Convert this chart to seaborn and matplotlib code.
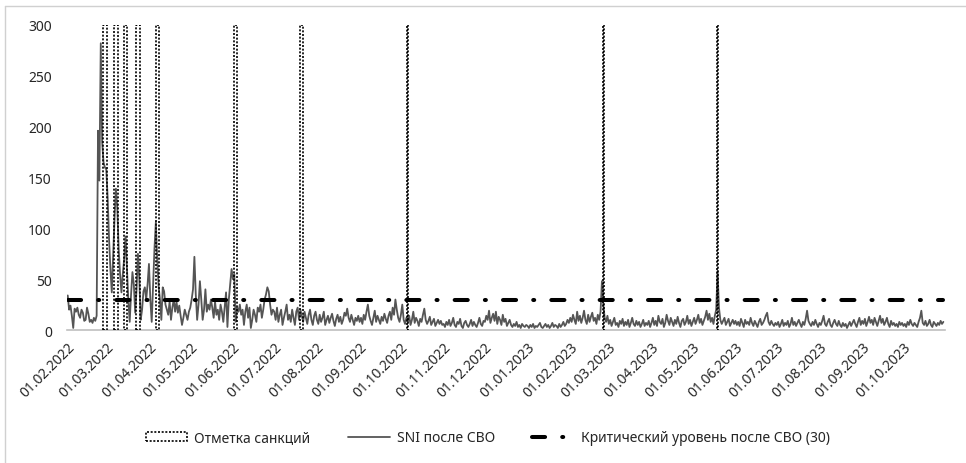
import seaborn as sns
import matplotlib.pyplot as plt
import matplotlib.dates as mdates
import pandas as pd
from matplotlib.lines import Line2D

# SNI after the start of SVO, one value per day from 01.02.2022
sni_2022_02 = [34, 20, 24, 14, 2, 21, 18, 22, 15, 12, 20, 17, 9, 10, 22, 16, 8, 10, 7, 12,
               9, 14, 196, 147, 282, 185, 165, 160]
sni_2022_03 = [158, 130, 90, 60, 37, 75, 110, 139, 120, 80, 55, 37, 55, 70, 92, 60, 30, 8, 35, 57,
               45, 17, 40, 75, 50, 10, 20, 38, 42, 30, 45]
sni_2022_04 = [65, 30, 8, 45, 80, 106, 70, 43, 30, 10, 42, 38, 25, 20, 15, 28, 10, 22, 30, 18,
               28, 17, 24, 14, 5, 12, 20, 15, 10, 18]
sni_2022_05 = [22, 30, 40, 72, 35, 10, 25, 48, 30, 10, 20, 40, 18, 25, 20, 30, 22, 12, 28, 15,
               20, 10, 25, 18, 8, 22, 37, 3, 30, 45, 60]
sni_2022_06 = [50, 55, 8, 22, 18, 25, 15, 20, 5, 18, 25, 12, 22, 2, 10, 20, 15, 8, 22, 18,
               25, 12, 20, 30, 35, 42, 38, 25, 15, 20]
sni_2022_07 = [18, 10, 22, 8, 15, 20, 5, 12, 18, 25, 10, 15, 8, 20, 12, 5, 18, 22, 10, 20,
               14, 8, 18, 12, 6, 15, 20, 10, 5, 14, 18]
sni_2022_08 = [10, 6, 15, 8, 12, 18, 5, 10, 14, 7, 12, 16, 9, 4, 11, 15, 8, 13, 6, 10,
               17, 14, 21, 12, 8, 15, 10, 5, 12, 9, 14]
sni_2022_09 = [8, 12, 6, 15, 10, 18, 25, 14, 9, 5, 12, 19, 8, 14, 10, 6, 13, 9, 16, 11,
               7, 14, 18, 10, 22, 15, 30, 20, 12, 8]
sni_2022_10 = [15, 25, 10, 6, 12, 8, 14, 5, 10, 18, 7, 12, 9, 4, 11, 8, 15, 21, 10, 6,
               9, 13, 5, 8, 11, 4, 7, 10, 6, 9, 5]
sni_2022_11 = [6, 3, 8, 5, 10, 4, 7, 12, 5, 3, 8, 6, 11, 4, 2, 7, 9, 5, 3, 6,
               10, 4, 8, 5, 3, 7, 12, 6, 4, 9]
sni_2022_12 = [8, 14, 10, 19, 7, 12, 16, 9, 18, 6, 13, 10, 5, 15, 8, 11, 4, 7, 10, 5,
               3, 6, 4, 8, 3, 5, 2, 6, 4, 3, 5]
sni_2023_01 = [4, 2, 5, 3, 6, 2, 4, 3, 5, 7, 3, 2, 4, 6, 3, 5, 2, 4, 7, 3,
               5, 4, 2, 6, 3, 5, 8, 4, 6, 10, 7]
sni_2023_02 = [12, 8, 15, 10, 6, 18, 9, 14, 7, 12, 19, 10, 6, 15, 8, 13, 17, 9, 12, 6,
               15, 10, 18, 48, 25, 12, 8, 14]
sni_2023_03 = [6, 10, 4, 8, 12, 5, 7, 3, 9, 6, 11, 4, 8, 5, 10, 3, 7, 12, 6, 4,
               9, 5, 8, 3, 6, 10, 4, 7, 5, 9, 3]
sni_2023_04 = [7, 12, 5, 9, 4, 14, 8, 6, 11, 3, 7, 15, 9, 5, 12, 8, 4, 10, 6, 13,
               7, 3, 9, 11, 5, 8, 14, 6, 10, 4]
sni_2023_05 = [8, 12, 6, 10, 15, 7, 11, 5, 9, 13, 19, 10, 16, 8, 12, 6, 14, 20, 58, 22,
               10, 6, 9, 12, 5, 8, 11, 4, 7, 10, 6]
sni_2023_06 = [9, 5, 8, 4, 11, 7, 3, 10, 6, 8, 5, 12, 7, 4, 9, 6, 3, 8, 11, 5,
               7, 10, 14, 17, 8, 5, 9, 6, 4, 7]
sni_2023_07 = [5, 8, 3, 6, 10, 4, 7, 5, 9, 3, 6, 12, 5, 8, 4, 7, 10, 6, 3, 8,
               5, 11, 19, 9, 6, 4, 8, 5, 10, 6, 3]
sni_2023_08 = [7, 5, 9, 14, 6, 4, 8, 11, 5, 3, 7, 10, 6, 4, 9, 5, 3, 7, 4, 6,
               2, 5, 8, 4, 7, 10, 6, 3, 8, 12, 5]
sni_2023_09 = [9, 6, 11, 4, 8, 13, 7, 10, 5, 12, 8, 4, 9, 14, 7, 11, 5, 8, 12, 6,
               3, 9, 5, 7, 4, 6, 3, 8, 5, 7]
sni_2023_10 = [4, 6, 3, 8, 5, 10, 6, 4, 7, 5, 3, 8, 12, 19, 7, 5, 9, 4, 6, 10,
               5, 3, 8, 6, 4, 7, 5, 9, 6, 8]

sanction_dates = ['2022-02-28', '2022-03-08', '2022-03-15', '2022-03-24', '2022-04-07',
                  '2022-06-03', '2022-07-21', '2022-10-06', '2023-02-25', '2023-05-19']
sanction_height = 300
critical_level = 30

label_sanctions = 'Отметка санкций'
label_sni = 'SNI после СВО'
label_critical = 'Критический уровень после СВО (30)'

sni = (sni_2022_02 + sni_2022_03 + sni_2022_04 + sni_2022_05 + sni_2022_06 + sni_2022_07
       + sni_2022_08 + sni_2022_09 + sni_2022_10 + sni_2022_11 + sni_2022_12 + sni_2023_01
       + sni_2023_02 + sni_2023_03 + sni_2023_04 + sni_2023_05 + sni_2023_06 + sni_2023_07
       + sni_2023_08 + sni_2023_09 + sni_2023_10)
df = pd.DataFrame({'date': pd.date_range('2022-02-01', periods=len(sni), freq='D'), 'sni': sni})
sanctions = pd.to_datetime(sanction_dates)

sns.set_theme(style='white')
plt.rcParams['font.family'] = ['Noto Sans', 'DejaVu Sans']

fig = plt.figure(figsize=(9.66, 4.64), dpi=100)
ax = fig.add_axes([0.0694, 0.2866, 0.9086, 0.6574])

# sanction marks: empty bars with dotted outline
widths = [2.4] * 7 + [0.5] * 3
bars = ax.bar(sanctions, [sanction_height] * len(sanctions), width=widths, bottom=0,
              fill=False, edgecolor='black', linewidth=1.2, linestyle=(0, (1.2, 1.0)),
              label=label_sanctions, zorder=3)

sns.lineplot(data=df, x='date', y='sni', ax=ax, color='#555555', linewidth=1.3,
             label=label_sni, zorder=2)
sni_line = ax.get_lines()[0]

crit, = ax.plot([df['date'].iloc[0], df['date'].iloc[-1]], [critical_level, critical_level],
                color='black', linewidth=2.9, linestyle=(0, (3.25, 4.25, 0.25, 4.25)),
                dash_capstyle='round', label=label_critical, zorder=4)

ax.set_xlim(df['date'].iloc[0] - pd.Timedelta(hours=12), df['date'].iloc[-1] + pd.Timedelta(days=1))
ax.set_ylim(0, 300)
ax.set_yticks(range(0, 301, 50))
ax.set_xticks(pd.date_range('2022-02-01', '2023-10-01', freq='MS'))
ax.xaxis.set_major_formatter(mdates.DateFormatter('%d.%m.%Y'))
ax.set_xlabel('')
ax.set_ylabel('')
ax.tick_params(axis='x', length=0, pad=7, labelsize=10, labelcolor='#262626')
ax.tick_params(axis='y', length=0, pad=11, labelsize=10, labelcolor='#262626')
for lab in ax.get_xticklabels():
    lab.set_rotation(45)
    lab.set_ha('right')
    lab.set_va('top')
    lab.set_rotation_mode('anchor')

for s in ['top', 'right', 'left']:
    ax.spines[s].set_visible(False)
ax.spines['bottom'].set_color('#bfbfbf')
ax.spines['bottom'].set_linewidth(1.2)
ax.get_legend().remove()

fig.legend([bars, sni_line, crit], [label_sanctions, label_sni, label_critical],
           loc='center', bbox_to_anchor=(0.505, 0.054), ncol=3, frameon=False,
           handlelength=3.0, columnspacing=2.7, handletextpad=0.5, fontsize=10)

# outer chart border
fig.add_artist(Line2D([5 / 966, 5 / 966], [0, 1 - 7 / 464], color='#d0d0d0', lw=1,
                      transform=fig.transFigure))
fig.add_artist(Line2D([5 / 966, 1], [1 - 7 / 464, 1 - 7 / 464], color='#d0d0d0', lw=1,
                      transform=fig.transFigure))

fig.savefig('out.png', dpi=100)
